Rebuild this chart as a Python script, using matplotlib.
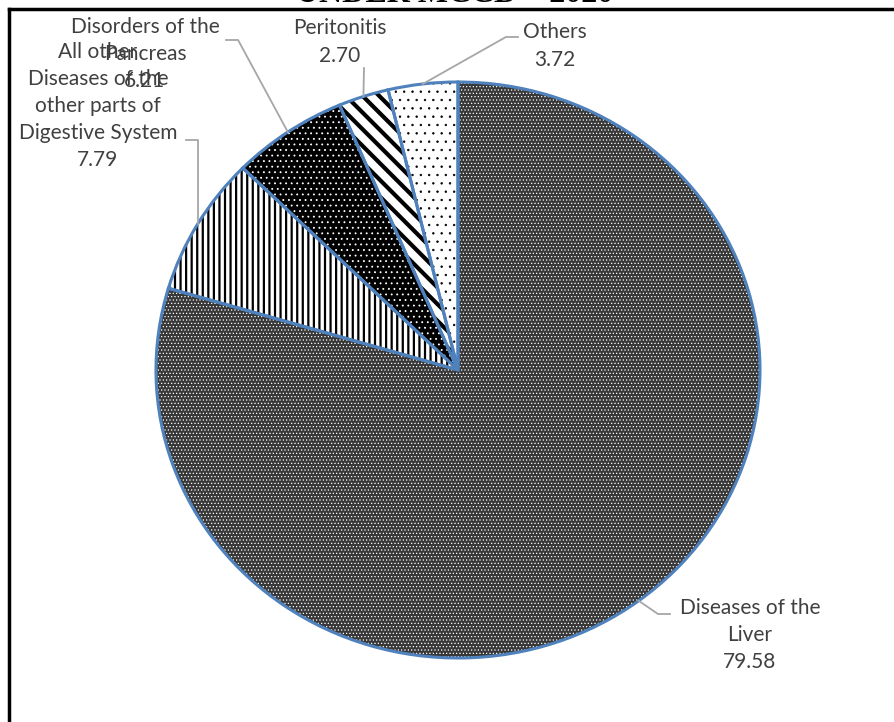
import matplotlib.pyplot as plt
from matplotlib.lines import Line2D
import numpy as np

labels = ["Diseases of the\nLiver", "All other\nDiseases of the\nother parts of\nDigestive System",
          "Disorders of the\nPancreas", "Peritonitis", "Others"]
values = [79.58, 7.79, 6.21, 2.70, 3.72]

faces = ["#383838", "white", "black", "white", "white"]
hatch_cols = ["white", "black", "white", "black", "black"]
hatches = [".....", "|||", "...", "\\\\", ".."]
hatch_lws = [0.5, 1.6, 0.6, 3.0, 0.5]

# label text centres in pixels (layout)
label_px = [(750, 635), (98, 106), (145, 54), (340, 42), (555, 46)]
# where the leader line leaves the text (pixels)
elbow_px = [(670, 614), (186, 140), (226, 40), (364, 68), (518, 37)]

W, H = 894, 722
cx, cy, rx, ry = 458, 370, 302, 288

def to_data(px, py):
    return (px - cx) / rx, (cy - py) / ry

fig = plt.figure(figsize=(W / 100, H / 100), dpi=100)
ax = fig.add_axes([0, 0, 1, 1])

wedges, _ = ax.pie(values, startangle=90, counterclock=False, colors=faces,
                   wedgeprops=dict(linewidth=0))
for w, hc, h, hl in zip(wedges, hatch_cols, hatches, hatch_lws):
    w.set_edgecolor(hc)
    w.set_hatch(h)
    w.set_hatch_linewidth(hl)
    w.set_linewidth(0)
ax.pie(values, startangle=90, counterclock=False,
       wedgeprops=dict(fill=False, edgecolor="#4F81BD", linewidth=2.2))

ax.set_aspect("auto")
ax.set_xlim(-cx / rx, (W - cx) / rx)
ax.set_ylim(-(H - cy) / ry, cy / ry)
ax.axis("off")

for w, lab, v, lp, ep in zip(wedges, labels, values, label_px, elbow_px):
    mid = np.deg2rad((w.theta1 + w.theta2) / 2)
    axp, ayp = np.cos(mid), np.sin(mid)
    tx, ty = to_data(*lp)
    ex, ey = to_data(*ep)
    ax.text(tx, ty, f"{lab}\n{v:.2f}", ha="center", va="center", fontsize=15,
            family="Lato", color="#404040", linespacing=1.45)
    if abs(ex - axp) * rx < 3:
        ax.plot([ex, axp], [ey, ayp], color="#A6A6A6", lw=1.3)
    elif lab.startswith("All other"):
        hx = ex + 0.04
        ax.plot([ex, hx, hx], [ey, ey, ayp], color="#A6A6A6", lw=1.3)
    else:
        hx = ex + (0.04 if axp > ex else -0.04)
        ax.plot([ex, hx, axp], [ey, ey, ayp], color="#A6A6A6", lw=1.3)

# border of the original figure frame
fig.add_artist(Line2D([9 / W, 1], [1 - 9 / H, 1 - 9 / H], color="black", lw=2.5, transform=fig.transFigure))
fig.add_artist(Line2D([9 / W, 9 / W], [0, 1 - 9 / H], color="black", lw=2.5, transform=fig.transFigure))
fig.text(455 / W, 1 - 2 / H, "UNDER MCCD – 2020", ha="center", va="baseline",
         fontsize=23, fontweight="bold", family="Liberation Serif")

fig.savefig("out.png", dpi=100)
